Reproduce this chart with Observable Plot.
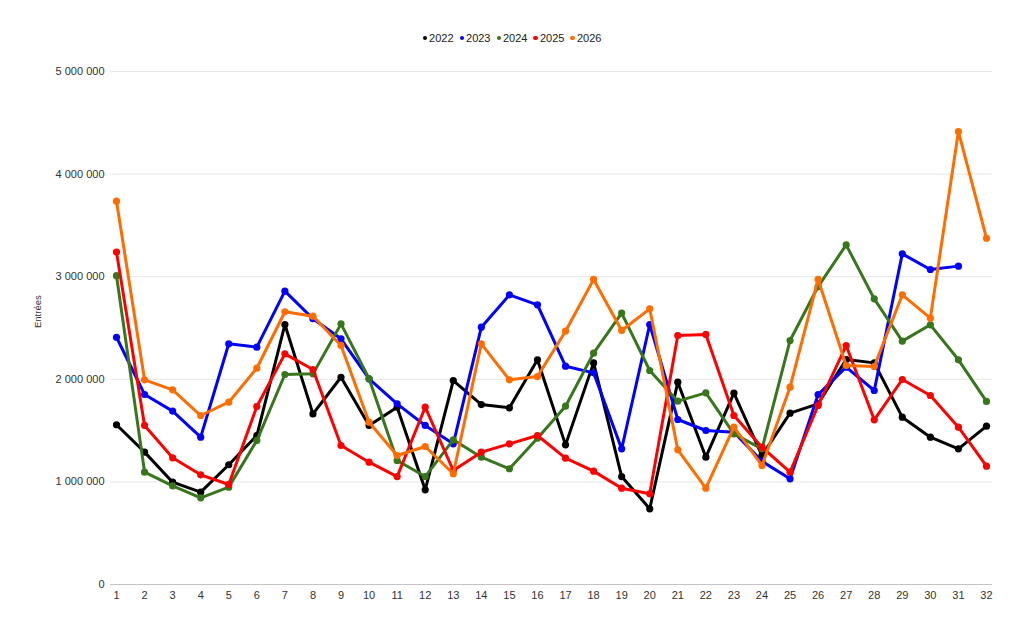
<!DOCTYPE html>
<html>
<head>
<meta charset="utf-8">
<script src="https://cdn.jsdelivr.net/npm/d3@7"></script>
<script src="https://cdn.jsdelivr.net/npm/@observablehq/plot@0.6"></script>
<style>
  html, body { margin: 0; padding: 0; background: #fff; }
  body { width: 1024px; height: 634px; overflow: hidden; font-family: "Liberation Sans", Arial, sans-serif; }
  #legend { height: 56px; display: flex; justify-content: center; align-items: flex-start; padding-top: 0; box-sizing: border-box; }
  #legend .inner { display: flex; gap: 6px; margin-top: 31px; margin-left: 0px; font-size: 11px; color: #222; line-height: 14px; }
  #legend .item { display: flex; align-items: center; gap: 2px; }
  #legend .dot { width: 4.5px; height: 4.5px; border-radius: 50%; display: inline-block; }
</style>
</head>
<body>
<div id="legend"><div class="inner"></div></div>
<div id="chart"></div>
<script>
const days = [1,2,3,4,5,6,7,8,9,10,11,12,13,14,15,16,17,18,19,20,21,22,23,24,25,26,27,28,29,30,31,32];
const years = ["2022","2023","2024","2025","2026"];
const colors = ["#000000","#0000ff","#38761d","#ff0000","#ff6d01"];
const yTicks = [0, 1000000, 2000000, 3000000, 4000000, 5000000];

const v2022 = [1557000,1290000,997000,900000,1167000,1452000,2534000,1663000,2020000,1550000,1728000,923000,1988000,1754000,1722000,2190000,1361000,2160000,1052000,738000,1972000,1241000,1865000,1257000,1670000,1761000,2193000,2160000,1631000,1436000,1322000,1543000];
const v2023 = [2410000,1852000,1690000,1436000,2346000,2313000,2859000,2590000,2395000,2005000,1761000,1550000,1371000,2508000,2823000,2726000,2128000,2063000,1322000,2534000,1608000,1501000,1485000,1200000,1030000,1852000,2118000,1891000,3223000,3070000,3103000,null];
const v2024 = [3010000,1095000,962000,845000,949000,1403000,2047000,2053000,2540000,2005000,1209000,1052000,1410000,1241000,1128000,1426000,1738000,2255000,2645000,2086000,1787000,1868000,1468000,1322000,2378000,2904000,3310000,2784000,2372000,2531000,2190000,1784000];
const v2025 = [3240000,1550000,1235000,1069000,975000,1735000,2248000,2095000,1355000,1192000,1052000,1728000,1111000,1290000,1371000,1452000,1231000,1105000,939000,884000,2427000,2437000,1647000,1338000,1095000,1745000,2329000,1605000,1998000,1842000,1533000,1153000];
const v2026 = [3736000,1995000,1897000,1647000,1777000,2108000,2658000,2615000,2330000,1582000,1257000,1345000,1079000,2346000,1995000,2027000,2469000,2973000,2476000,2687000,1313000,939000,1533000,1160000,1923000,2973000,2134000,2125000,2823000,2596000,4415000,3375000];

const seriesValues = [v2022, v2023, v2024, v2025, v2026];

// Legend
const inner = document.querySelector("#legend .inner");
years.forEach((y, i) => {
  const it = document.createElement("span");
  it.className = "item";
  const d = document.createElement("span");
  d.className = "dot";
  d.style.background = colors[i];
  const t = document.createElement("span");
  t.textContent = y;
  it.appendChild(d); it.appendChild(t);
  inner.appendChild(it);
});

const fmt = v => d3.format(",")(v).replace(/,/g, " ");

const marks = [
  Plot.gridY(yTicks.filter(d => d > 0), {stroke: "#e6e6e6", strokeOpacity: 1}),
  Plot.ruleY([0], {stroke: "#c4c4c4"}),
  Plot.axisY(yTicks, {tickSize: 0, tickPadding: 6, tickFormat: fmt, fontSize: 11, fill: "#333", label: null}),
  Plot.axisX(days, {tickSize: 0, tickPadding: 7, fontSize: 11, fill: "#333", label: null}),
  Plot.text(["Entrées"], {frameAnchor: "left", dx: -73, rotate: -90, fontSize: 9.5, fill: "#333"})
];

years.forEach((y, i) => {
  const rows = days.map((d, j) => ({day: d, value: seriesValues[i][j], year: y})).filter(r => r.value != null);
  marks.push(Plot.line(rows, {x: "day", y: "value", stroke: colors[i], strokeWidth: 3, strokeLinejoin: "round"}));
  marks.push(Plot.dot(rows, {x: "day", y: "value", fill: colors[i], r: 3.6, stroke: "none"}));
});

const chart = Plot.plot({
  width: 1024,
  height: 578,
  marginTop: 15,
  marginBottom: 50,
  marginLeft: 110,
  marginRight: 32,
  style: {fontFamily: "'Liberation Sans', Arial, sans-serif", background: "#fff"},
  x: {domain: [0.786, 32.214], axis: null},
  y: {domain: [0, 5000000], axis: null},
  marks
});
document.getElementById("chart").appendChild(chart);
</script>
</body>
</html>
